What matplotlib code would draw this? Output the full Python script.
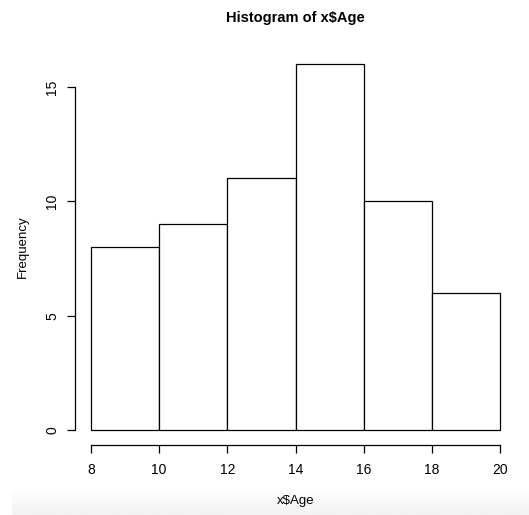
import numpy as np
import matplotlib
matplotlib.use("Agg")
import matplotlib.pyplot as plt

# histogram bins (age) and counts
bin_edges = [8, 10, 12, 14, 16, 18, 20]
counts = [8, 9, 11, 16, 10, 6]
x_ticks = [8, 10, 12, 14, 16, 18, 20]
y_ticks = [0, 5, 10, 15]

plt.rcParams['font.family'] = ['Liberation Sans', 'DejaVu Sans']

fig = plt.figure(figsize=(5.29, 5.15), dpi=100)
fig.patch.set_facecolor('white')

# faint grey band at the bottom of the screenshot
band = fig.add_axes([12 / 529, 0, 1 - 12 / 529, 28 / 515])
grad = np.linspace(1.0, 0.95, 50).reshape(-1, 1)
band.imshow(grad, cmap='gray', vmin=0, vmax=1, aspect='auto',
            extent=[0, 1, 0, 1], origin='upper')
band.set_axis_off()

ax = fig.add_axes([74.6 / 529, 1 - 444.6 / 515,
                   (516.4 - 74.6) / 529, (444.6 - 49.5) / 515])

widths = np.diff(bin_edges)
ax.bar(bin_edges[:-1], counts, width=widths, align='edge',
       facecolor='white', edgecolor='black', linewidth=0.9)

ax.set_xlim(7.52, 20.48)
ax.set_ylim(-0.64, 16.64)

for s in ['top', 'right']:
    ax.spines[s].set_visible(False)
ax.spines['left'].set_bounds(0, 15)
ax.spines['bottom'].set_bounds(8, 20)
ax.spines['left'].set_linewidth(0.9)
ax.spines['bottom'].set_linewidth(0.9)

ax.set_xticks(x_ticks)
ax.set_yticks(y_ticks)
ax.tick_params(axis='both', length=6, width=0.9, labelsize=10)
ax.tick_params(axis='x', pad=7)
ax.tick_params(axis='y', pad=5)
ax.set_yticklabels([str(v) for v in y_ticks], rotation=90, va='center')

ax.set_title('Histogram of x$Age', fontsize=10.5, fontweight='bold', pad=20)
ax.set_xlabel('x$Age', fontsize=9.5, labelpad=13)
ax.set_ylabel('Frequency', fontsize=9.5, labelpad=12)

fig.savefig('out.png', dpi=100)
